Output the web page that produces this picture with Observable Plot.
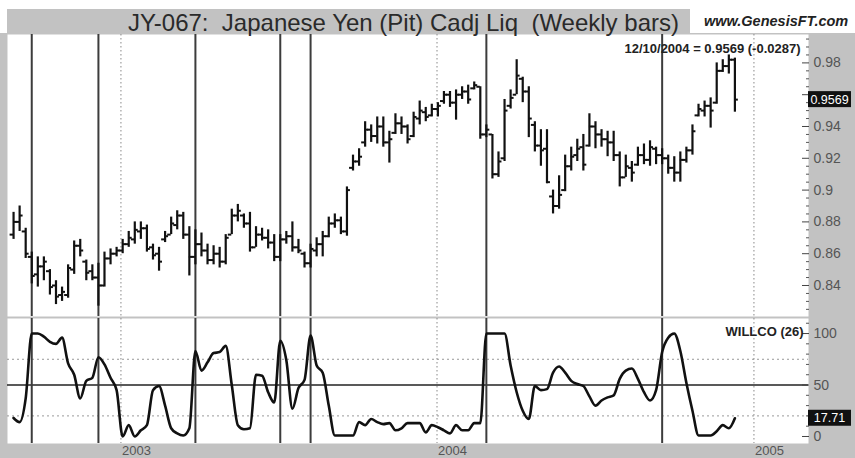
<!DOCTYPE html>
<html><head><meta charset="utf-8">
<script src="https://cdn.jsdelivr.net/npm/d3@7"></script>
<script src="https://cdn.jsdelivr.net/npm/@observablehq/plot@0.6"></script>
<style>
body{margin:0;background:#fff;font-family:"Liberation Sans",Arial,sans-serif}
#wrap{position:relative;width:855px;height:458px;overflow:hidden;background:#fff}
#band{position:absolute;left:7px;top:9px;width:683px;height:24px;background:#c2c2c2}
#title{position:absolute;left:128px;top:11px;font-size:24px;line-height:24px;color:#2a2a2a;white-space:pre;z-index:3}
#site{position:absolute;left:704px;top:14px;font-size:14.5px;line-height:15px;font-weight:bold;font-style:italic;color:#222;white-space:pre;z-index:3}
#upper{position:absolute;left:0;top:33px;z-index:1}
#lower{position:absolute;left:0;top:317px;z-index:1}
svg{display:block}
</style></head><body>
<div id="wrap">
  <div id="band"></div>
  <div id="title">JY-067:  Japanese Yen (Pit) Cadj Liq  (Weekly bars)</div>
  <div id="site">www.GenesisFT.com</div>
  <div id="upper"></div>
  <div id="lower"></div>
</div>
<script>
// ---- data (weekly bars, first bar Friday 2002-08-30) ----
const firstBar = "2002-08-30";
const opens = [.872,.880,.874,.858,.847,.852,.849,.840,.834,.834,.850,.865,.855,.849,.845,.840,.857,.860,.862,.866,
.869,.874,.876,.864,.860,.869,.872,.878,.884,.872,.858,.866,.862,.856,.860,.855,.872,.884,.884,.879,
.864,.872,.870,.867,.858,.869,.871,.864,.860,.854,.862,.866,.871,.879,.881,.874,.914,.918,.930,.938,
.934,.940,.930,.936,.942,.940,.934,.945,.949,.947,.951,.956,.960,.955,.960,.962,.964,.965,.935,.935,
.910,.920,.953,.960,.970,.962,.941,.928,.926,.896,.890,.900,.915,.922,.927,.928,.940,.935,.932,.930,
.922,.908,.914,.916,.922,.919,.926,.922,.920,.914,.911,.919,.925,.947,.950,.953,.955,.975,.978,.982];
const highs = [.886,.890,.876,.861,.858,.858,.850,.843,.839,.853,.868,.869,.856,.853,.854,.861,.863,.864,.869,.874,
.880,.880,.878,.866,.864,.874,.883,.887,.886,.877,.875,.873,.866,.865,.864,.872,.888,.891,.885,.886,
.877,.876,.875,.872,.872,.874,.880,.869,.861,.866,.870,.874,.883,.885,.883,.902,.922,.926,.943,.941,
.946,.946,.937,.948,.946,.941,.949,.956,.952,.954,.955,.962,.962,.963,.965,.966,.968,.965,.941,.935,
.924,.957,.963,.982,.971,.965,.943,.938,.938,.900,.909,.922,.927,.932,.935,.948,.943,.938,.937,.937,
.924,.922,.918,.927,.929,.931,.927,.926,.922,.921,.924,.927,.941,.954,.956,.958,.980,.982,.985,.983];
const lows = [.869,.874,.857,.841,.839,.843,.834,.828,.830,.832,.847,.858,.843,.843,.827,.839,.853,.858,.860,.864,
.866,.869,.861,.856,.849,.867,.872,.875,.869,.846,.853,.858,.853,.853,.851,.853,.872,.880,.876,.861,
.864,.868,.863,.855,.855,.866,.861,.860,.851,.851,.858,.858,.870,.876,.872,.871,.912,.915,.927,.930,
.929,.927,.917,.935,.935,.929,.933,.941,.943,.946,.946,.954,.952,.944,.957,.954,.963,.932,.933,.907,
.908,.918,.951,.960,.955,.933,.924,.915,.904,.885,.888,.899,.912,.918,.912,.927,.926,.927,.921,.918,
.902,.908,.905,.915,.916,.915,.916,.916,.910,.905,.905,.917,.922,.946,.946,.939,.954,.974,.973,.949];
const closes = [.880,.884,.860,.846,.852,.855,.839,.833,.836,.851,.865,.862,.848,.845,.840,.857,.860,.862,.866,.870,
.875,.876,.863,.859,.855,.871,.879,.884,.872,.858,.866,.862,.856,.860,.855,.870,.884,.887,.879,.864,
.872,.870,.867,.858,.869,.871,.864,.862,.854,.863,.866,.871,.879,.881,.874,.900,.918,.921,.938,.934,
.940,.930,.932,.942,.940,.932,.946,.950,.946,.951,.953,.960,.955,.960,.962,.957,.966,.935,.938,.910,
.918,.950,.958,.972,.962,.945,.928,.925,.905,.890,.897,.915,.921,.926,.916,.940,.935,.932,.930,.922,
.908,.915,.911,.922,.919,.927,.922,.920,.914,.911,.919,.925,.937,.951,.953,.950,.975,.978,.982,.9569];
const willco = [18,14,37,100,100,97,92,90,96,71,60,37,54,57,77,70,57,45,0,11,
0,6,11,45,49,30,8,3,1,8,83,64,72,81,82,88,50,11,7,8,
60,59,43,33,93,74,27,47,55,98,69,62,30,1,1,1,1,14,11,17,
14,12,13,6,8,13,13,13,4,11,9,6,3,11,6,6,13,13,100,100,
100,100,69,43,25,17,49,45,46,62,68,62,54,51,49,39,30,35,38,40,
56,64,66,56,43,35,45,82,96,100,83,52,25,1,1,1,5,11,8,17.71];
const signalDates = ["2002-09-20","2002-12-06","2003-03-28","2003-07-04","2003-08-08","2004-02-27","2004-09-17"];
const yearTicks = ["2003-01-01","2004-01-01","2005-01-01"];
const priceTicks = [0.84,0.86,0.88,0.9,0.92,0.94,0.96,0.98];
const priceTickLabels = ["0.84","0.86","0.88","0.9","0.92","0.94","","0.98"]; // 0.96 is hidden under the last-value box
const priceMinor = [0.825,0.83,0.835,0.845,0.85,0.855,0.865,0.87,0.875,0.885,0.89,0.895,0.905,0.91,0.915,0.925,0.93,0.935,0.945,0.95,0.955,0.965,0.97,0.975,0.985,0.99,0.995];
const willcoTicks = [0,50,100];
const willcoMinor = [10,20,30,40,60,70,80,90,110];
const willcoGuides = [20,75];
const lastLabel = "12/10/2004 = 0.9569 (-0.0287)";
const lastClose = 0.9569, lastWillco = 17.71;

// ---- build ----
const start = new Date(firstBar);
const bars = highs.map((h,i)=>({date:d3.utcDay.offset(start,7*i),open:opens[i],high:h,low:lows[i],close:closes[i],willco:willco[i]}));
const sig = signalDates.map(d=>new Date(d));
const yrs = yearTicks.map(d=>new Date(d));
const xDomain = [new Date("2002-08-23"), new Date("2005-03-05")];
const GRAY = "#c2c2c2", INK = "#111";
const common = {width:855, marginLeft:7, marginRight:47, style:{background:GRAY, overflow:"visible", fontFamily:"Liberation Sans, Arial, sans-serif"}};

const upper = Plot.plot({
  ...common, height:284, marginTop:1, marginBottom:1,
  x:{type:"utc", domain:xDomain, axis:null},
  y:{domain:[0.8205,0.99786], axis:null},
  marks:[
    Plot.frame({fill:"white"}),
    Plot.ruleX(yrs,{stroke:"#888",strokeDasharray:"1.5,2.5"}),
    Plot.ruleX(sig,{stroke:"#3c3c3c",strokeWidth:2}),
    Plot.ruleX(bars,{x:"date",y1:"low",y2:"high",stroke:INK,strokeWidth:2.2}),
    Plot.ruleY(bars,{y:"open",x1:d=>d3.utcDay.offset(d.date,-4),x2:"date",stroke:INK,strokeWidth:2}),
    Plot.ruleY(bars,{y:"close",x1:"date",x2:d=>d3.utcDay.offset(d.date,4),stroke:INK,strokeWidth:2}),
    Plot.axisY(priceMinor,{anchor:"right",label:null,tickSize:3,dx:-3,tickFormat:()=>"",stroke:"#555"}),
    Plot.axisY(priceTicks,{anchor:"right",label:null,tickSize:7,dx:-7,tickPadding:5,tickFormat:(d)=>priceTickLabels[priceTicks.indexOf(d)],fontSize:14,fill:"#555",stroke:"#444"}),
    Plot.text([lastLabel],{frameAnchor:"top-right",dx:-8,dy:9,fontSize:13,fontWeight:"bold",fill:"#222"})
  ]
});
document.getElementById("upper").append(upper);

const lower = Plot.plot({
  ...common, height:141, marginTop:1, marginBottom:15,
  x:{type:"utc", domain:xDomain, label:null},
  y:{domain:[-6.8,114.6], axis:null, label:null},
  marks:[
    Plot.frame({fill:"white"}),
    Plot.ruleY(willcoGuides,{stroke:"#999",strokeDasharray:"2,3"}),
    Plot.ruleY([50],{stroke:"#222",strokeWidth:1.6}),
    Plot.ruleX(yrs,{stroke:"#888",strokeDasharray:"1.5,2.5"}),
    Plot.ruleX(sig,{stroke:"#3c3c3c",strokeWidth:2}),
    Plot.line(bars,{x:"date",y:"willco",curve:"monotone-x",stroke:INK,strokeWidth:2.6,strokeLinejoin:"round"}),
    Plot.axisY(willcoMinor,{anchor:"right",label:null,tickSize:3,dx:-3,tickFormat:()=>"",stroke:"#555"}),
    Plot.axisY(willcoTicks,{anchor:"right",label:null,tickSize:7,dx:-7,tickPadding:5,fontSize:14,fill:"#555",stroke:"#444"}),
    Plot.axisX(yrs,{anchor:"bottom",label:null,tickSize:0,tickPadding:2,textAnchor:"start",dx:1,tickFormat:"%Y",fontSize:13,fill:"#555"}),
    Plot.text(["WILLCO (26)"],{frameAnchor:"top-right",dx:-5,dy:8,fontSize:13,fontWeight:"bold",fill:"#222"})
  ]
});
document.getElementById("lower").append(lower);

// value boxes on the right axis, placed through the plots' scales
function valueBox(svg, yVal, label){
  const xr = svg.scale("x").range[1];
  const yy = svg.scale("y").apply(yVal);
  const g = d3.select(svg).append("g");
  g.append("rect").attr("x",xr).attr("y",yy-8).attr("width",43).attr("height",16).attr("fill","#111");
  g.append("text").attr("x",xr+21.5).attr("y",yy).attr("dy","0.35em").attr("text-anchor","middle")
   .attr("fill","#fff").attr("font-size",12.5).attr("font-family","Liberation Sans, Arial, sans-serif").text(label);
}
valueBox(upper, lastClose, "0.9569");
valueBox(lower, lastWillco, "17.71");
</script>
</body></html>
